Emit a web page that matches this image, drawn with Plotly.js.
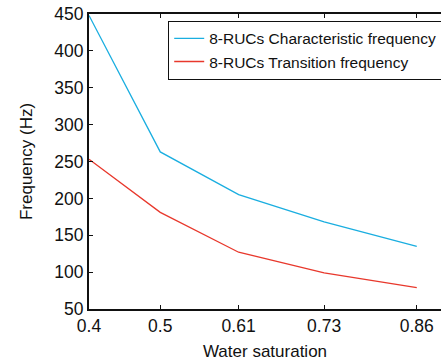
<!DOCTYPE html>
<html><head><meta charset="utf-8">
<script src="https://cdn.plot.ly/plotly-3.0.1.min.js"></script>
<style>html,body{margin:0;padding:0;background:#fff}</style>
</head><body>
<div id="chart" style="width:441px;height:363px"></div>
<script>
const waterSaturation = [0.4, 0.5, 0.61, 0.73, 0.86];
const characteristicFreq = [448, 263, 205, 168, 135];
const transitionFreq = [253, 181, 127, 99, 79];
const seriesNames = ["8-RUCs Characteristic frequency", "8-RUCs Transition frequency"];
const tickLabels = ["0.4", "0.5", "0.61", "0.73", "0.86"];

const font = {family: "Liberation Sans, Arial, sans-serif", color: "#111", size: 17};

const traces = [
  {x: waterSaturation, y: characteristicFreq, name: seriesNames[0], mode: "lines", type: "scatter",
   line: {color: "#1aaee0", width: 1.3}},
  {x: waterSaturation, y: transitionFreq, name: seriesNames[1], mode: "lines", type: "scatter",
   line: {color: "#e8382c", width: 1.3}}
];

const layout = {
  width: 441, height: 363,
  margin: {l: 89, r: 0, t: 14, b: 54, autoexpand: false},
  paper_bgcolor: "#fff", plot_bgcolor: "#fff",
  font: font,
  showlegend: true,
  legend: {x: 0.225, y: 0.977, xanchor: "left", yanchor: "top", bordercolor: "#111", borderwidth: 1,
           bgcolor: "#fff", font: {family: font.family, size: 15.5, color: "#111"}, tracegroupgap: 0,
           itemwidth: 30},
  xaxis: {
    range: [0.4, 0.894], tickvals: waterSaturation, ticktext: tickLabels,
    showgrid: false, zeroline: false, showline: true, linecolor: "#111", linewidth: 2,
    mirror: "ticks", ticks: "inside", ticklen: 4, tickcolor: "#111", tickwidth: 1,
    tickfont: {family: font.family, size: 17.5, color: "#111"},
    title: {text: "Water saturation", font: {family: font.family, size: 17, color: "#111"}, standoff: 10}
  },
  yaxis: {
    range: [50, 450], tickvals: [50, 100, 150, 200, 250, 300, 350, 400, 450],
    showgrid: false, zeroline: false, showline: true, linecolor: "#111", linewidth: 2,
    ticks: "inside", ticklen: 4, tickcolor: "#111", tickwidth: 1,
    tickfont: {family: font.family, size: 17.5, color: "#111"},
    title: {text: "Frequency (Hz)", font: {family: font.family, size: 17, color: "#111"}, standoff: 17}
  }
};

Plotly.newPlot("chart", traces, layout, {staticPlot: true, displayModeBar: false});
</script>
</body></html>
